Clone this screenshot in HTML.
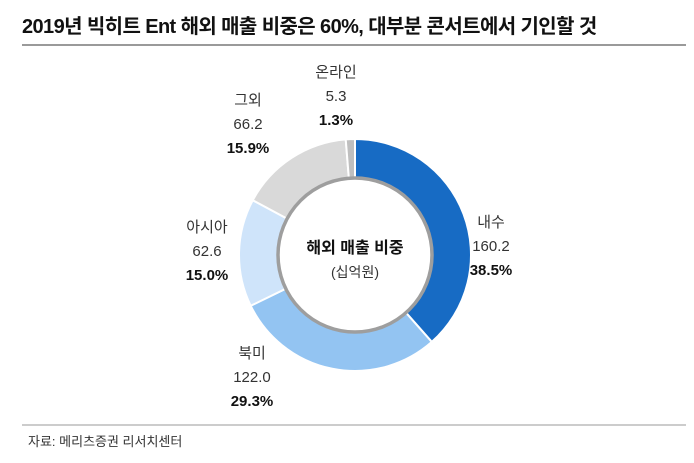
<!DOCTYPE html>
<html><head><meta charset="utf-8"><style>
body{margin:0;width:694px;height:463px;background:#fff;font-family:"Liberation Sans","Noto Sans CJK KR",sans-serif;overflow:hidden}
svg{position:absolute;left:0;top:0}
</style></head><body>
<svg width="694" height="463">
<text x="22" y="33" font-size="20" font-weight="bold" fill="#111" style="font-family:'Liberation Sans','Noto Sans CJK KR',sans-serif;letter-spacing:-0.6px">2019년 빅히트 Ent 해외 매출 비중은 60%, 대부분 콘서트에서 기인할 것</text>
<line x1="22" y1="45" x2="686" y2="45" stroke="#9a9a9a" stroke-width="2"/>
<g id="donut"></g>
<g id="labels"></g>
<circle cx="355" cy="255" r="77" fill="#fff" stroke="#9e9e9e" stroke-width="3.5"/>
<text x="355" y="253" text-anchor="middle" font-size="16" font-weight="bold" fill="#111">해외 매출 비중</text>
<text x="355" y="277" text-anchor="middle" font-size="14" fill="#333">(십억원)</text>
<line x1="22" y1="425" x2="686" y2="425" stroke="#9a9a9a" stroke-width="1"/>
<text x="28" y="446" font-size="13" fill="#333">자료: 메리츠증권 리서치센터</text>
</svg>
<script>
const categories=["내수","북미","아시아","그외","온라인"];
const values=[160.2,122.0,62.6,66.2,5.3];
const percents=["38.5%","29.3%","15.0%","15.9%","1.3%"];
const colors=["#176bc4","#93c4f2","#cfe4fa","#d9d9d9","#bfbfbf"];
const labelPos=[[491,222],[252,353],[207,227],[248,100],[336,72]];
const cx=355,cy=255,R=116,r=76;
const NS="http://www.w3.org/2000/svg";
const total=values.reduce((a,b)=>a+b,0);
const g=document.getElementById("donut"),lg=document.getElementById("labels");
function pt(a,rad){return [cx+rad*Math.sin(a),cy-rad*Math.cos(a)];}
let acc=0;
values.forEach((v,i)=>{
  const a0=acc/total*2*Math.PI;acc+=v;const a1=acc/total*2*Math.PI;
  const large=(a1-a0)>Math.PI?1:0;
  const p0=pt(a0,R),p1=pt(a1,R),q1=pt(a1,r),q0=pt(a0,r);
  const p=document.createElementNS(NS,"path");
  p.setAttribute("d",`M${p0[0]},${p0[1]}A${R},${R} 0 ${large} 1 ${p1[0]},${p1[1]}L${q1[0]},${q1[1]}A${r},${r} 0 ${large} 0 ${q0[0]},${q0[1]}Z`);
  p.setAttribute("fill",colors[i]);p.setAttribute("stroke","#fff");p.setAttribute("stroke-width","2");
  
  
  g.appendChild(p);
  const [lx,ly]=labelPos[i];
  const lines=[categories[i],values[i].toFixed(1),percents[i]];
  lines.forEach((s,j)=>{
    const t=document.createElementNS(NS,"text");
    t.setAttribute("x",lx);t.setAttribute("y",ly+j*24+5);t.setAttribute("text-anchor","middle");
    t.setAttribute("font-size","15");t.setAttribute("fill",j==2?"#111":"#333");
    if(j==2)t.setAttribute("font-weight","bold");
    t.textContent=s;
    
    
    lg.appendChild(t);
  });
});
</script>
</body></html>
